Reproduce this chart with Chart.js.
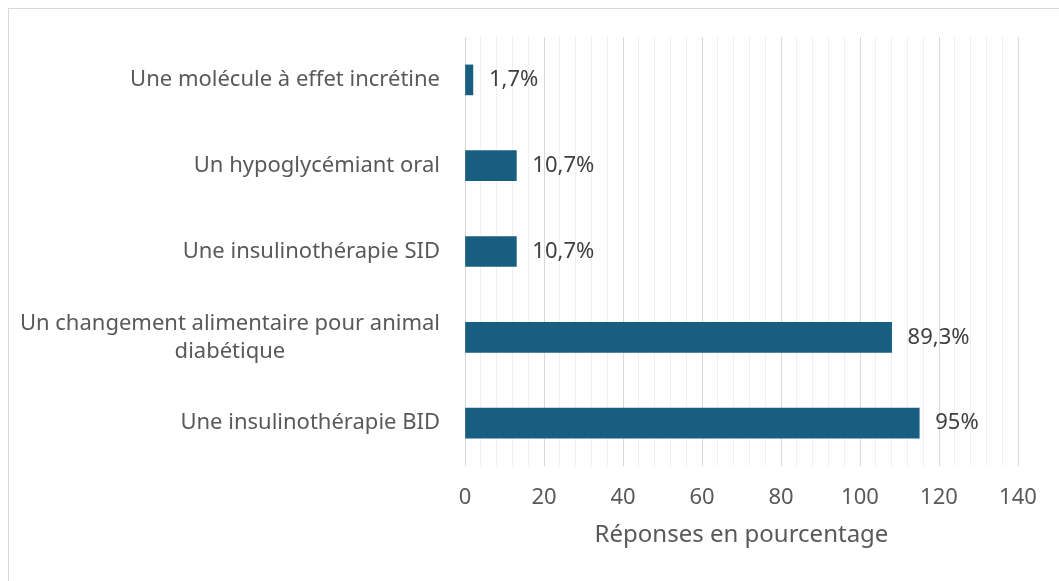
<!DOCTYPE html>
<html>
<head>
<meta charset="utf-8">
<script src="https://cdn.jsdelivr.net/npm/chart.js@4/dist/chart.umd.min.js"></script>
<style>
  html, body { margin: 0; padding: 0; background: #ffffff; overflow: hidden; }
  #wrap { position: absolute; left: 0; top: 0; width: 1059px; height: 581px; }
  #frame { position: absolute; left: 8px; top: 8px; width: 1100px; height: 620px; border: 1px solid #d9d9d9; box-sizing: border-box; }
  canvas { position: absolute; left: 0; top: 0; }
</style>
</head>
<body>
<div id="wrap">
  <div id="frame"></div>
  <canvas id="c" width="1059" height="581"></canvas>
</div>
<script>
// ---- data ----
const categories = [
  ["Une molécule à effet incrétine"],
  ["Un hypoglycémiant oral"],
  ["Une insulinothérapie SID"],
  ["Un changement alimentaire pour animal", "diabétique"],
  ["Une insulinothérapie BID"]
];
const responseCounts = [2, 13, 13, 108, 115];
const percentLabels = ["1,7%", "10,7%", "10,7%", "89,3%", "95%"];
const xAxisTitle = "Réponses en pourcentage";
const xMin = 0, xMax = 140, xMinorStep = 4, xMajorStep = 20;

const FONT = "'Noto Sans', 'Open Sans', sans-serif";
const TEXT = "#595959";

const yLabelPlugin = {
  id: 'yLabels',
  afterDraw(chart) {
    const ctx = chart.ctx;
    const y = chart.scales.y;
    const right = y.right - 25;
    ctx.save();
    ctx.font = "22px " + FONT;
    ctx.fillStyle = TEXT;
    ctx.textBaseline = 'middle';
    ctx.textAlign = 'center';
    const lh = 28;
    categories.forEach((lines, i) => {
      const cy = y.getPixelForValue(i);
      const w = Math.max(...lines.map(l => ctx.measureText(l).width));
      const cx = right - w / 2;
      const y0 = cy - (lines.length - 1) * lh / 2;
      lines.forEach((l, k) => ctx.fillText(l, cx, y0 + k * lh));
    });
    ctx.restore();
  }
};

const valueLabelPlugin = {
  id: 'valueLabels',
  afterDatasetsDraw(chart) {
    const ctx = chart.ctx;
    const meta = chart.getDatasetMeta(0);
    ctx.save();
    ctx.font = "22px " + FONT;
    ctx.fillStyle = "#404040";
    ctx.textBaseline = 'middle';
    ctx.textAlign = 'left';
    meta.data.forEach((bar, i) => {
      ctx.fillText(percentLabels[i], bar.x + 16, bar.y);
    });
    ctx.restore();
  }
};

new Chart(document.getElementById('c'), {
  type: 'bar',
  data: {
    labels: categories.map(c => c.join(' ')),
    datasets: [{
      data: responseCounts,
      backgroundColor: '#175e80',
      borderWidth: 0,
      barThickness: 30
    }]
  },
  options: {
    indexAxis: 'y',
    responsive: false,
    animation: false,
    events: [],
    layout: { padding: { top: 37, bottom: 0, left: 0, right: 41 } },
    plugins: { legend: { display: false }, tooltip: { enabled: false } },
    scales: {
      y: {
        afterFit(scale) { scale.width = 465; },
        ticks: { display: false },
        grid: { display: false },
        border: { display: false }
      },
      x: {
        min: xMin, max: xMax,
        afterFit(scale) { scale.height = 115; },
        ticks: {
          stepSize: xMinorStep,
          autoSkip: false,
          maxRotation: 0,
          padding: 19,
          color: TEXT,
          font: { family: FONT, size: 22 },
          callback: (v) => (v % xMajorStep === 0 ? String(v) : '')
        },
        grid: {
          drawTicks: false,
          lineWidth: 1,
          color: (ctx) => (ctx.tick && ctx.tick.value % xMajorStep === 0 ? '#d9d9d9' : '#f0f0f0')
        },
        border: { display: false },
        title: {
          display: true,
          text: xAxisTitle,
          color: TEXT,
          font: { family: FONT, size: 24 },
          padding: { top: 0, bottom: 31 }
        }
      }
    }
  },
  plugins: [yLabelPlugin, valueLabelPlugin]
});
</script>
</body>
</html>
